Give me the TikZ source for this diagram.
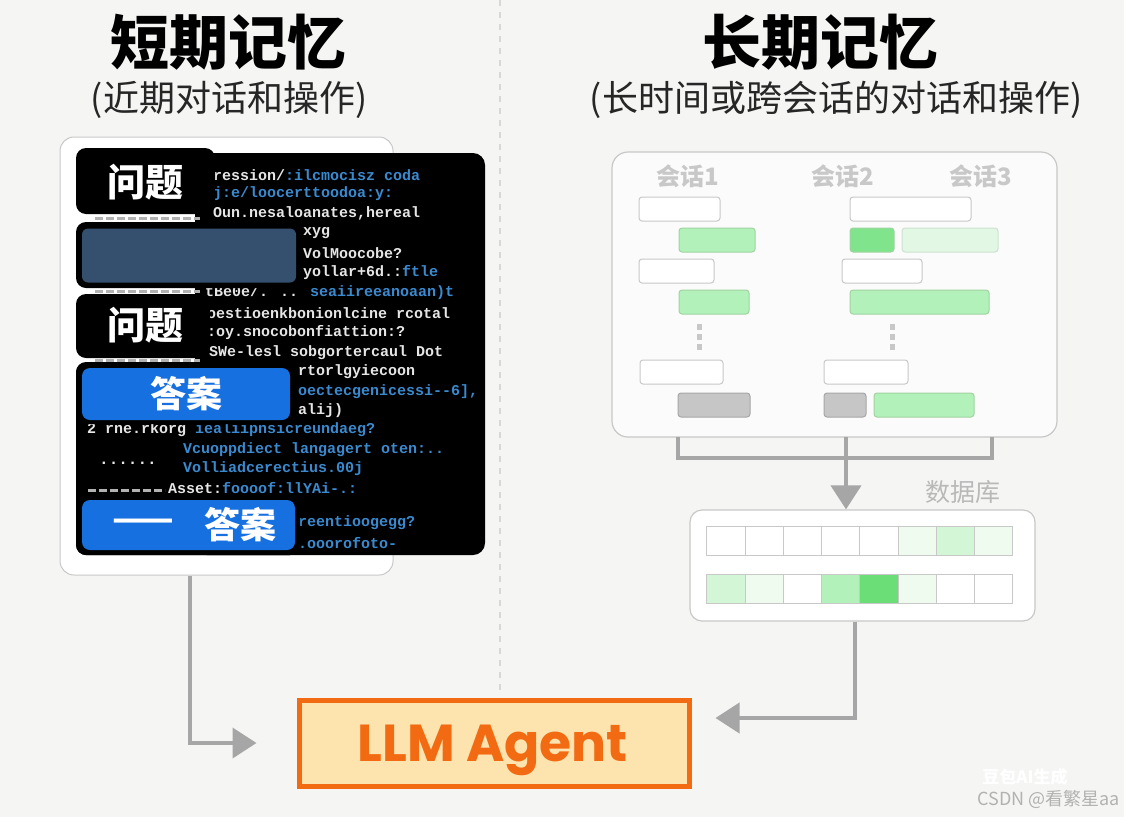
\documentclass[tikz,border=0pt]{standalone}
\usepackage{fontspec}
\usetikzlibrary{arrows.meta,positioning}
\newfontfamily\cjk{Noto Sans CJK SC}
\newfontfamily\pop{Poppins}
\newfontfamily\mono{Liberation Mono}
\definecolor{bgc}{HTML}{F5F5F3}
\definecolor{cw}{HTML}{E6E6E6}
\definecolor{cb}{HTML}{3A8AD0}
\definecolor{bluebox}{HTML}{1670E0}
\definecolor{slate}{HTML}{34506E}
\definecolor{conn}{HTML}{A6A6A6}
\definecolor{lgray}{HTML}{C8C8C8}
\definecolor{g1}{HTML}{B2F2BA}
\definecolor{g2}{HTML}{80E48C}
\definecolor{g3}{HTML}{E2F8E4}
\definecolor{g4}{HTML}{6CDE78}
\definecolor{g5}{HTML}{D2F6D6}
\definecolor{g6}{HTML}{F0FBF0}
\definecolor{orng}{HTML}{F26A12}
\definecolor{peach}{HTML}{FDE3AE}
\tikzset{
  title/.style={font=\cjk\bfseries\fontsize{59}{62}\selectfont, text=black},
  sub/.style={font=\cjk\fontsize{36}{40}\selectfont, text=black!85},
  code/.style={font=\mono\bfseries\fontsize{15}{16}\selectfont, anchor=west, inner sep=0pt, text=cw},
  tab/.style={fill=black, rounded corners=10pt},
  wtxt/.style={font=\cjk\bfseries\fontsize{38}{40}\selectfont, text=white},
  wbox/.style={draw=lgray, fill=white, rounded corners=3pt, line width=1pt},
  gbox/.style={draw=lgray!80!green, fill=g1, rounded corners=3pt, line width=1pt},
  graybox/.style={draw=gray!70, fill=gray!45, rounded corners=3pt, line width=1pt},
  sess/.style={font=\cjk\bfseries\fontsize{24}{26}\selectfont, text=lgray},
  conline/.style={draw=conn, line width=4pt},
  conarrow/.style={draw=conn, line width=4pt, -{Triangle[length=24pt,width=30pt]}},
  cell/.style={draw=lgray, line width=1pt, minimum width=38.25pt, minimum height=29pt, inner sep=0pt},
  gapdash/.style={draw=gray!60, line width=3pt, dash pattern=on 8pt off 3pt},
}
\begin{document}
\begin{tikzpicture}[x=1pt,y=-1pt]
\fill[bgc] (0,0) rectangle (1124,817);
\useasboundingbox (0,0) rectangle (1124,817);
% divider
\draw[lgray!70, line width=1.5pt, dash pattern=on 6pt off 6pt] (500,0) -- (500,690);
% titles
\node[title] (t1) at (228,42) {短期记忆};
\node[sub] (s1) at (229,100) {(近期对话和操作)};
\node[title] (t2) at (820,42) {长期记忆};
\node[sub] (s2) at (836,100) {(长时间或跨会话的对话和操作)};
% left panel
\node[draw=lgray, fill=white, rounded corners=14pt, line width=1pt, minimum width=333pt, minimum height=438pt] (left) at (226.5,356) {};
\fill[black, rounded corners=12pt] (195,153) rectangle (485,555);
\fill[black, rounded corners=10pt] (76,362) rectangle (300,555);
% code lines
\node[code] (c1) at (213,175) {ression/\textcolor{cb}{:ilcmocisz coda}};
\node[code, text=cb] (c2) at (213,194) {j:e/loocerttoodoa:y:};
\node[code] (c3) at (213,213) {Oun.nesaloanates,hereal};
\node[code] (c4) at (303,233) {xyg};
\node[code] (c5) at (303,253) {VolMoocobe?};
\node[code] (c6) at (303,273) {yollar+6d.:\textcolor{cb}{ftle}};
\node[code] (c7) at (205,293) {tBe0e/. .. \textcolor{cb}{seaiireeanoaan)t}};
\node[code] (c8) at (207,313) {oestioenkbonionlcine rcotal};
\node[code] (c9) at (207,333) {:oy.snocobonfiattion:?};
\node[code] (c10) at (200,353) {:SWe-lesl sobgortercaul Dot};
\node[code] (c11) at (298,372) {rtorlgyiecoon};
\node[code, text=cb] (c12) at (298,392) {oectecgenicessi--6],};
\node[code] (c13) at (298,411) {alij)};
\node[code] (c14) at (87,430) {2 rne.rkorg \textcolor{cb}{iealiipnsicreundaeg?}};
\node[code, text=cb] (c15) at (183,450) {Vcuoppdiect langagert oten:..};
\node[code, text=cb] (c16) at (183,469) {Volliadcerectius.00j};
\node[code] (c17) at (168,488) {Asset:\textcolor{cb}{foooof:llYAi-.:}};
\node[code, text=cb] (c18) at (298,523) {reentioogegg?};
\node[code, text=cb] (c19) at (298,543) {.ooorofoto-};
% tabs
\fill[tab] (76,148) rectangle (215,214);
\node[wtxt] (q1) at (145,182) {问题};
\draw[gapdash] (95,218) -- (200,218);
\fill[tab] (76,222) rectangle (300,288);
\node[fill=slate, rounded corners=6pt, minimum width=214pt, minimum height=54pt] (sl) at (189,255.5) {};
\draw[gapdash] (95,291) -- (200,291);
\fill[tab] (76,294) rectangle (210,358);
\node[wtxt] (q2) at (145,325) {问题};
\draw[gapdash] (95,360) -- (200,360);
\fill[tab] (76,363) rectangle (296,424);
\node[fill=bluebox, rounded corners=8pt, minimum width=208pt, minimum height=52pt, wtxt, font=\cjk\bfseries\fontsize{36}{38}\selectfont] (a1) at (186,394) {答案};
\node[font=\mono\bfseries\fontsize{16}{16}\selectfont, text=cw, inner sep=0pt] (dots) at (128,463) {......};
\draw[gapdash] (88,490) -- (165,490);
\fill[tab] (76,495) rectangle (300,555);
\node[fill=bluebox, rounded corners=8pt, minimum width=213pt, minimum height=50pt] (a2) at (188.5,525) {};
\node[text=white, font=\cjk\bfseries\fontsize{36}{36}\selectfont, inner sep=0pt] (dd) at (143,525) {——};
\node[wtxt, font=\cjk\bfseries\fontsize{36}{38}\selectfont] (a2t) at (240,525) {答案};
% right panel
\node[draw=lgray, fill=white!97!gray, rounded corners=16pt, line width=1.2pt, minimum width=445pt, minimum height=285pt] (right) at (834.5,294.5) {};
\node[sess] (h1) at (688,176) {会话1};
\node[sess] (h2) at (843,176) {会话2};
\node[sess] (h3) at (981,176) {会话3};
% session 1
\draw[wbox] (639,197) rectangle (720,221);
\draw[gbox] (679,228) rectangle (755,252);
\draw[wbox] (639,259) rectangle (714,283);
\draw[gbox] (679,290) rectangle (749,314);
\foreach \yy in {327,337,347} \fill[lgray] (697,\yy-3) rectangle (702,\yy+3);
\draw[wbox] (640,360) rectangle (723,384);
\draw[graybox] (678,393) rectangle (750,417);
% session 2
\draw[wbox] (850,197) rectangle (971,221);
\draw[gbox, fill=g2] (850,228) rectangle (894,252);
\draw[gbox, draw=g3!80!gray, fill=g3] (902,228) rectangle (998,252);
\draw[wbox] (842,259) rectangle (922,283);
\draw[gbox] (850,290) rectangle (989,314);
\foreach \yy in {327,337,347} \fill[lgray] (890,\yy-3) rectangle (895,\yy+3);
\draw[wbox] (824,360) rectangle (908,384);
\draw[graybox] (824,393) rectangle (866,417);
\draw[gbox] (874,393) rectangle (974,417);
% connectors to db
\coordinate (r1) at (678,437);
\coordinate (r2) at (846,437);
\coordinate (r3) at (992,437);
\draw[conline] (r1) -- (678,458) -- (992,458) -- (r3);
% database
\node[font=\cjk\fontsize{25}{27}\selectfont, text=gray!55] (dbl) at (963,492) {数据库};
\node[draw=lgray, fill=white, rounded corners=12pt, line width=1.2pt, minimum width=345pt, minimum height=111pt] (db) at (862.5,565.5) {};
\draw[conarrow] (r2) -- (db.north -| r2);
\foreach \i/\c in {0/white,1/white,2/white,3/white,4/white,5/g6,6/g5,7/g6}
  \node[cell, fill=\c] (ra\i) at (726.1+\i*38.25,540.5) {};
\foreach \i/\c in {0/g5,1/g6,2/white,3/g1,4/g4,5/g6,6/white,7/white}
  \node[cell, fill=\c] (rb\i) at (726.1+\i*38.25,589) {};
% LLM agent
\node[draw=orng, fill=peach, line width=5pt, minimum width=390pt, minimum height=86pt] (llm) at (494,743) {};
\node[font=\pop\bfseries\fontsize{52}{54}\selectfont, text=orng] (llmt) at (493,750) {LLM Agent};
\draw[conarrow, shorten >=40pt] ([xshift=-36.5pt]left.south) |- (llm.west);
\draw[conarrow, shorten >=24pt] ([xshift=-7.5pt]db.south) |- ([yshift=25pt]llm.east);
% watermarks
\node[font=\cjk\bfseries\fontsize{17}{18}\selectfont, text=white, inner sep=0pt] (wm1) at (1025,777) {豆包AI生成};
\node[font=\cjk\fontsize{18}{20}\selectfont, text=gray!60, anchor=east, inner sep=0pt] (wm2) at (1120,799) {CSDN @看繁星aa};
\end{tikzpicture}
\end{document}
